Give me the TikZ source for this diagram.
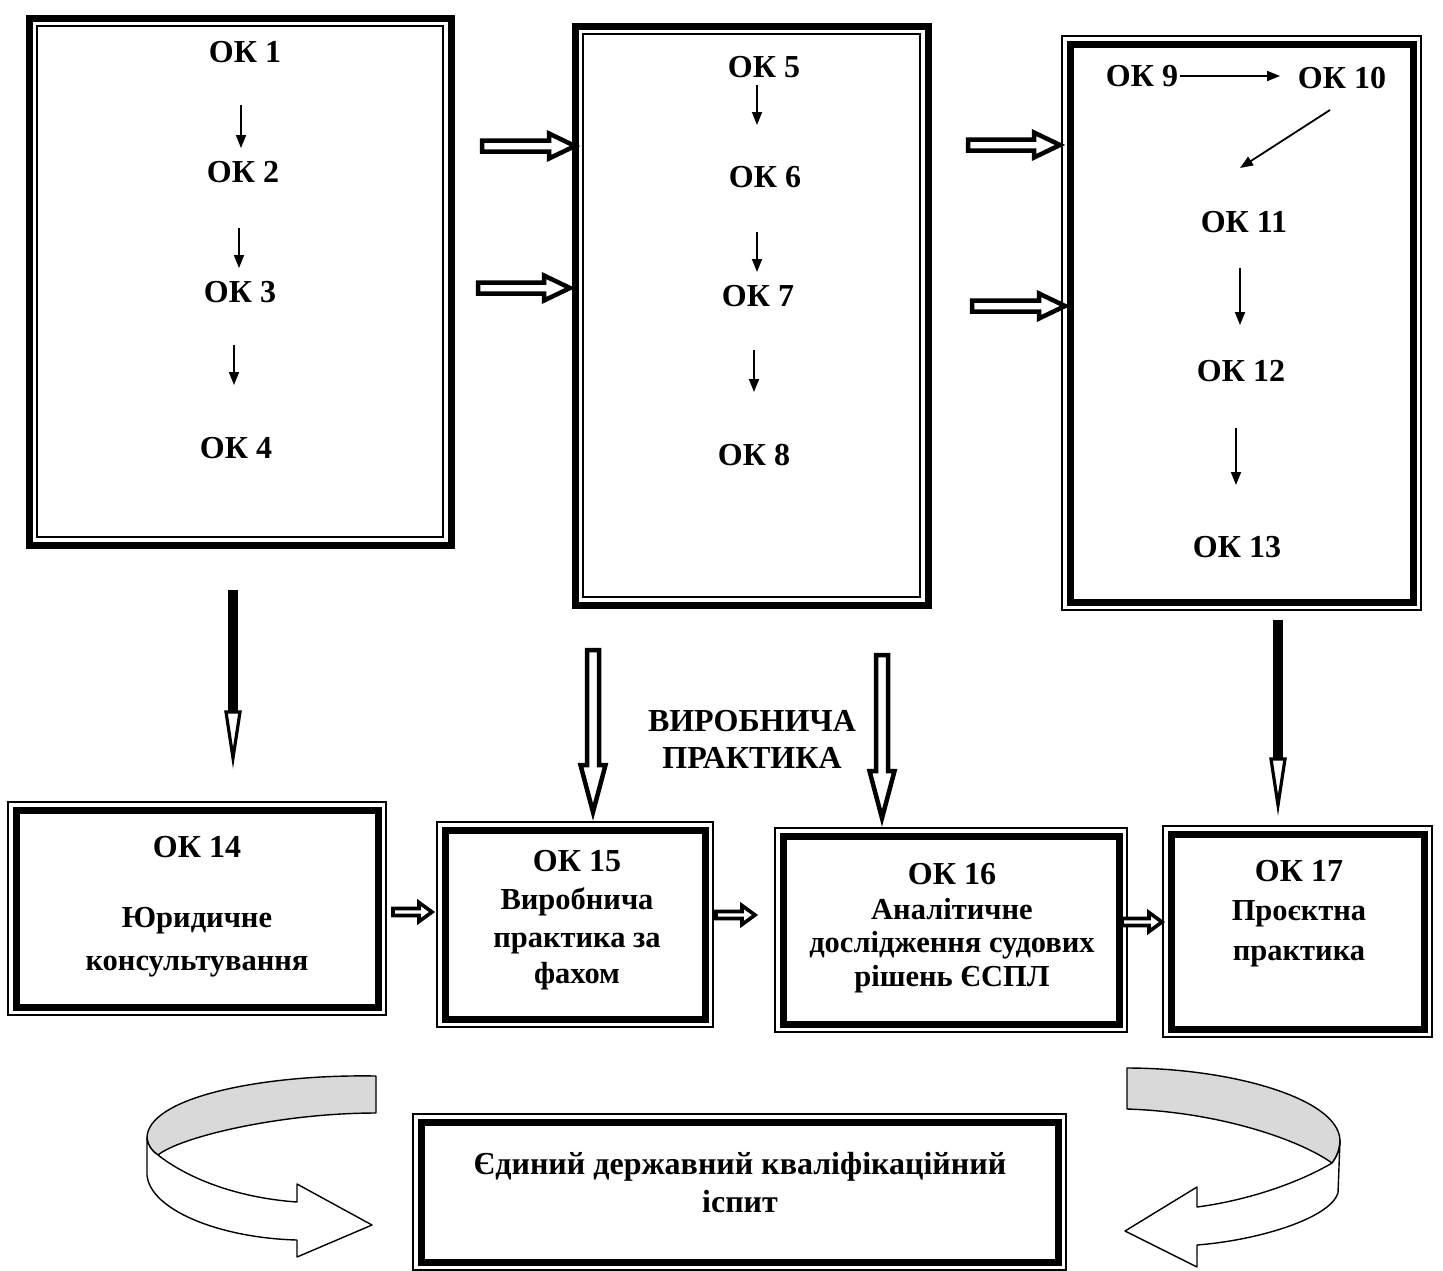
\documentclass[tikz,border=0pt]{standalone}
\usepackage{fontspec}
\setmainfont{Liberation Serif}
\usetikzlibrary{arrows.meta,calc}
\tikzset{
  thickbox/.style={draw, line width=7pt, outer sep=0pt, inner sep=0pt},
  thinline/.style={line width=1.8pt},
  oktext/.style={font=\fontsize{32}{38}\selectfont\bfseries, inner sep=0pt},
  oklab/.style={font=\fontsize{32}{38}\selectfont\bfseries, inner sep=0pt, anchor=base},
  boxline/.style={font=\fontsize{30.5}{36}\selectfont\bfseries, inner sep=0pt, anchor=base},
  sarrow/.style={line width=1.8pt, -{Triangle[length=13pt,width=10pt]}},
  hollow/.style={draw, line width=4.5pt, fill=white, line join=miter},
  hollowsm/.style={draw, line width=3.6pt, fill=white, line join=miter},
  ribbon/.style={draw, line width=1.4pt, line join=round},
}
\newcommand\innerframe[1]{\draw[thinline] ([shift={(8,8)}]#1.north west) rectangle ([shift={(-8,-8)}]#1.south east);}
\newcommand\outerframe[1]{\draw[thinline] ([shift={(-8,-8)}]#1.north west) rectangle ([shift={(8,8)}]#1.south east);}
% horizontal hollow arrow: start, end, shaft half, head half, head length, style
\newcommand\hollowright[6]{\draw[#6] let \p1=#1, \p2=#2 in
  (\x1,\y1+#3) -- (\x2-#5,\y1+#3) -- (\x2-#5,\y1+#4) -- (\x2,\y1) -- (\x2-#5,\y1-#4) -- (\x2-#5,\y1-#3) -- (\x1,\y1-#3) -- cycle;}
\newcommand\hollowdown[2]{\draw[hollow] let \p1=#1, \p2=#2 in
  (\x1-6pt,\y1) -- (\x1+6pt,\y1) -- (\x1+6pt,\y2+47pt) -- (\x1+12.5pt,\y2+47pt) -- (\x1,\y2) -- (\x1-12.5pt,\y2+47pt) -- (\x1-6pt,\y2+47pt) -- cycle;}
\newcommand\heavydown[2]{%
  \fill let \p1=#1, \p2=#2 in (\x1-5pt,\y1) rectangle (\x1+5pt,\y2+46pt);
  \draw[line width=3.2pt, fill=white, line join=miter] let \p1=#1, \p2=#2 in
    (\x1-7pt,\y2+46pt) -- (\x1+7pt,\y2+46pt) -- (\x1,\y2) -- cycle;}
\begin{document}
\begin{tikzpicture}[x=1pt,y=-1pt]
\useasboundingbox (0,0) rectangle (1443,1270);
\fill[white] (0,0) rectangle (1443,1270);

% ---------- top boxes ----------
\node[thickbox, minimum width=422pt, minimum height=527pt] (b1) at (240,281.5) {};
\innerframe{b1}
\node[thickbox, minimum width=353pt, minimum height=579pt] (b2) at (751.5,315.5) {};
\innerframe{b2}
\node[thickbox, minimum width=343pt, minimum height=558pt] (b3) at (1241.5,323) {};
\outerframe{b3}

\node[oktext] (t1) at (245,52) {ОК 1};
\node[oktext] (t2) at (243,172) {ОК 2};
\node[oktext] (t3) at (240,292) {ОК 3};
\node[oktext] (t4) at (236,448) {ОК 4};
\draw[sarrow] ([shift={(-4,53)}]t1.center) -- ([shift={(-2,-24)}]t2.center);
\draw[sarrow] ([shift={(-4,56)}]t2.center) -- ([shift={(-1,-24)}]t3.center);
\draw[sarrow] ([shift={(-6,53)}]t3.center) -- ([shift={(-2,-63)}]t4.center);

\node[oktext] (t5) at (764,67) {ОК 5};
\node[oktext] (t6) at (765,177) {ОК 6};
\node[oktext] (t7) at (758,296) {ОК 7};
\node[oktext] (t8) at (754,455) {ОК 8};
\draw[sarrow] ([shift={(-7,18)}]t5.center) -- ([shift={(-8,-52)}]t6.center);
\draw[sarrow] ([shift={(-8,55)}]t6.center) -- ([shift={(-1,-24)}]t7.center);
\draw[sarrow] ([shift={(-4,54)}]t7.center) -- ([shift={(0,-63)}]t8.center);

\node[oktext] (t9) at (1142,76) {ОК 9};
\node[oktext] (t10) at (1342,78) {ОК 10};
\node[oktext] (t11) at (1244,222) {ОК 11};
\node[oktext] (t12) at (1241,371) {ОК 12};
\node[oktext] (t13) at (1237,547) {ОК 13};
\draw[sarrow] ([shift={(38,0)}]t9.center) -- ([shift={(-62,-2)}]t10.center);
\draw[sarrow] ([shift={(-12,32)}]t10.center) -- ([shift={(-4,-54)}]t11.center);
\draw[sarrow] ([shift={(-4,46)}]t11.center) -- ([shift={(-1,-46)}]t12.center);
\draw[sarrow] ([shift={(-5,57)}]t12.center) -- ([shift={(-1,-62)}]t13.center);

% hollow arrows between top boxes
\hollowright{([shift={(31,-135.5)}]b1.east)}{([shift={(0,-169.5)}]b2.west)}{5.5pt}{12.5pt}{26pt}{hollow}
\hollowright{([shift={(27,6.5)}]b1.east)}{([shift={(-5,-27.5)}]b2.west)}{5.5pt}{12.5pt}{26pt}{hollow}
\hollowright{([shift={(40,-170.5)}]b2.east)}{([shift={(-10,-178)}]b3.west)}{5.5pt}{12.5pt}{26pt}{hollow}
\hollowright{([shift={(44,-9.5)}]b2.east)}{([shift={(-5,-17)}]b3.west)}{5.5pt}{12.5pt}{26pt}{hollow}

% ---------- bottom boxes ----------
\node[thickbox, minimum width=362pt, minimum height=197pt] (b14) at (197,908.5) {};
\outerframe{b14}
\node[thickbox, minimum width=260pt, minimum height=189pt] (b15) at (575,924.5) {};
\outerframe{b15}
\node[thickbox, minimum width=336pt, minimum height=188pt] (b16) at (951,930) {};
\outerframe{b16}
\node[thickbox, minimum width=253pt, minimum height=195pt] (b17) at (1297.5,931.5) {};
\outerframe{b17}
\node[thickbox, minimum width=637pt, minimum height=140pt] (bex) at (739.5,1192) {};
\outerframe{bex}

\node[oklab] (l14a) at (197,857) {ОК 14};
\node[boxline] (l14b) at (197,927) {Юридичне};
\node[boxline] (l14c) at (197,970) {консультування};

\node[oklab] (l15a) at (577,871) {ОК 15};
\node[boxline] (l15b) at (577,909) {Виробнича};
\node[boxline] (l15c) at (577,947) {практика за};
\node[boxline] (l15d) at (577,983) {фахом};

\node[oklab] (l16a) at (952,884) {ОК 16};
\node[boxline] (l16b) at (952,919) {Аналітичне};
\node[boxline] (l16c) at (952,952) {дослідження судових};
\node[boxline] (l16d) at (952,986) {рішень ЄСПЛ};

\node[oklab] (l17a) at (1299,881) {ОК 17};
\node[boxline] (l17b) at (1299,920) {Проєктна};
\node[boxline] (l17c) at (1299,960) {практика};

\node[oklab] (lexa) at (740,1174) {Єдиний державний кваліфікаційний};
\node[oklab] (lexb) at (740,1212) {іспит};

\node[oklab] (laba) at (752,731) {ВИРОБНИЧА};
\node[oklab] (labb) at (752,768) {ПРАКТИКА};

% small hollow arrows between bottom boxes
\hollowright{([shift={(15,3.5)}]b14.east)}{([shift={(-13,-12.5)}]b15.west)}{3.5pt}{9.5pt}{13pt}{hollowsm}
\hollowright{([shift={(11,-9.5)}]b15.east)}{([shift={(-28,-15)}]b16.west)}{3.5pt}{9.5pt}{13pt}{hollowsm}
\hollowright{([shift={(3,-8)}]b16.east)}{([shift={(-9,-9.5)}]b17.west)}{3.5pt}{9.5pt}{13pt}{hollowsm}

% vertical arrows from top boxes to bottom boxes
\heavydown{([shift={(-7,45)}]b1.south)}{([shift={(36,-52)}]b14.north)}
\heavydown{([shift={(36.5,18)}]b3.south)}{([shift={(-19.5,-29)}]b17.north)}
\hollowdown{([shift={(-158.5,45)}]b2.south)}{([shift={(18,-18)}]b15.north)}
\hollowdown{([shift={(130.5,50)}]b2.south)}{([shift={(-69,-18)}]b16.north)}

% ---------- curved ribbon arrows ----------
\filldraw[ribbon, fill=gray!30]
  (376,1076) .. controls (260,1074) and (147,1098) .. (147,1138)
  .. controls (148,1146) and (152,1151) .. (158,1155)
  .. controls (180,1137) and (280,1113) .. (376,1113) -- cycle;
\filldraw[ribbon, fill=white]
  (147,1138) -- (147,1175) .. controls (150,1210) and (220,1238) .. (297,1240)
  -- (297,1257) -- (372,1225) -- (297,1184) -- (297,1202)
  .. controls (240,1198) and (190,1180) .. (158,1155)
  .. controls (152,1151) and (148,1146) .. (147,1138) -- cycle;

\filldraw[ribbon, fill=gray!30]
  (1127,1068) .. controls (1230,1068) and (1338,1098) .. (1340,1140)
  .. controls (1340,1150) and (1336,1158) .. (1332,1163)
  .. controls (1300,1140) and (1220,1112) .. (1127,1109) -- cycle;
\filldraw[ribbon, fill=white]
  (1340,1140) -- (1338,1193) .. controls (1330,1218) and (1260,1240) .. (1197,1245)
  -- (1197,1267) -- (1125,1231) -- (1197,1187) -- (1197,1207)
  .. controls (1250,1200) and (1300,1182) .. (1332,1163)
  .. controls (1336,1158) and (1340,1150) .. (1340,1140) -- cycle;
\end{tikzpicture}
\end{document}
